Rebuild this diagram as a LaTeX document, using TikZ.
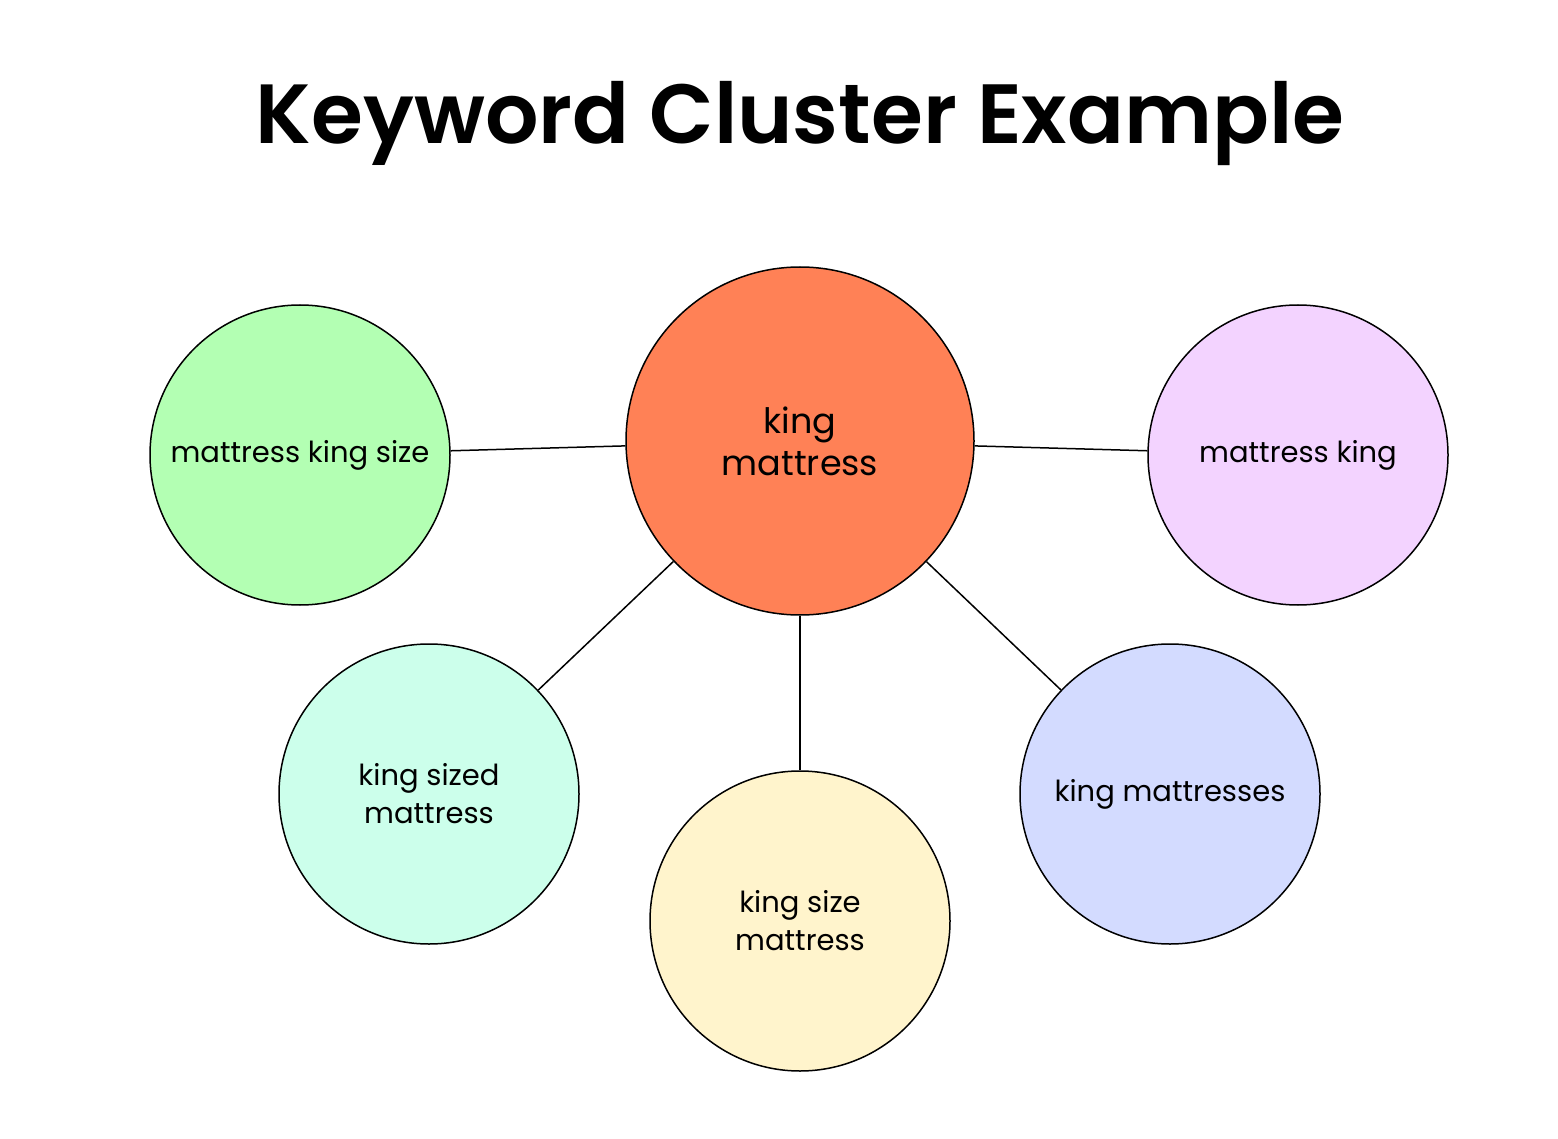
\documentclass[tikz,border=0pt]{standalone}
\usepackage{fontspec}
\setmainfont{Poppins}
\newfontfamily\titlefont{Poppins SemiBold}
\begin{document}
\begin{tikzpicture}[x=1pt,y=-1pt,
  bub/.style={circle,draw=black,line width=1.5pt,inner sep=0pt,align=center,font=\fontsize{29}{38}\selectfont},
  ln/.style={line width=1.5pt}]
\useasboundingbox (0,0) rectangle (1558,1139);
\definecolor{cor}{HTML}{FF8156}
\definecolor{cgr}{HTML}{B3FFB3}
\definecolor{cpk}{HTML}{F3D3FF}
\definecolor{cmn}{HTML}{CCFFEB}
\definecolor{cyl}{HTML}{FFF4CC}
\definecolor{cbl}{HTML}{D3DBFF}
\node[font=\fontsize{84}{100}\titlefont] (t) at (800,124) {Keyword Cluster Example};
\node[bub,fill=cor,minimum size=348pt,font=\fontsize{35}{42}\selectfont] (c) at (800,441) {king\\mattress};
\node[bub,fill=cgr,minimum size=300pt] (l) at (300,455) {mattress king size};
\node[bub,fill=cpk,minimum size=300pt] (r) at (1298,455) {mattress king};
\node[bub,fill=cmn,minimum size=300pt] (bl) at (429,794) {king sized\\mattress};
\node[bub,fill=cyl,minimum size=300pt] (b) at (800,921) {king size\\mattress};
\node[bub,fill=cbl,minimum size=300pt] (br) at (1170,794) {king mattresses};
\draw[ln] (c) -- (l);
\draw[ln] (c) -- (r);
\draw[ln] (c) -- (bl);
\draw[ln] (c) -- (b);
\draw[ln] (c) -- (br);
\end{tikzpicture}
\end{document}
